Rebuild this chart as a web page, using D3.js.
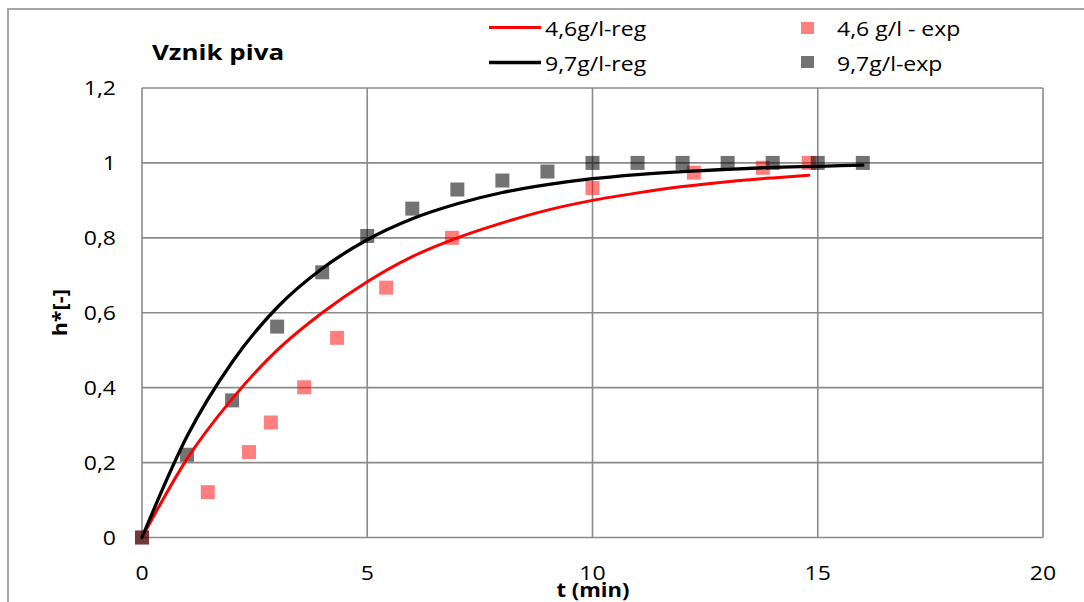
<!DOCTYPE html>
<html>
<head>
<meta charset="utf-8">
<script src="https://cdn.jsdelivr.net/npm/d3@7"></script>
<style>
  html, body { margin: 0; padding: 0; background: #fff; }
  svg { display: block; }
  text { font-family: "Open Sans", "Liberation Sans", sans-serif; fill: #000; }
</style>
</head>
<body>
<svg id="chart" width="1084" height="602"></svg>
<script>
// Axis ticks
const xTicks = [0, 5, 10, 15, 20];
const yTicks = [0, 0.2, 0.4, 0.6, 0.8, 1.0, 1.2];

// Regression curves (time in min, relative height h*)
const regT46 = [0, 1, 2, 3, 4, 5, 6, 7, 8, 9, 10, 11, 12, 13, 14, 14.8];
const regH46 = [0, 0.21, 0.37, 0.50, 0.60, 0.683, 0.75, 0.80, 0.84, 0.874, 0.90, 0.92, 0.937, 0.95, 0.96, 0.967];
const regT97 = [0, 1, 2, 3, 4, 5, 6, 7, 8, 9, 10, 11, 12, 13, 14, 15, 16];
const regH97 = [0, 0.27, 0.468, 0.614, 0.718, 0.795, 0.851, 0.891, 0.921, 0.942, 0.958, 0.969, 0.977, 0.983, 0.988, 0.991, 0.994];

// Measured points
const expT46 = [0, 1.46, 2.375, 2.86, 3.6, 4.33, 5.42, 6.88, 10, 12.25, 13.78, 14.8];
const expH46 = [0, 0.121, 0.228, 0.307, 0.401, 0.533, 0.667, 0.80, 0.933, 0.974, 0.987, 1.0];
const expT97 = [0, 1, 2, 3, 4, 5, 6, 7, 8, 9, 10, 11, 12, 13, 14, 15, 16];
const expH97 = [0, 0.221, 0.366, 0.563, 0.708, 0.805, 0.878, 0.929, 0.953, 0.977, 1, 1, 1, 1, 1, 1, 1];

const seriesNames = ["4,6g/l-reg", "9,7g/l-reg", "4,6 g/l - exp", "9,7g/l-exp"];

const svg = d3.select("#chart");
const SX = 1.15; // horizontal glyph stretch

function label(g, x, y, str, opts = {}) {
  const t = g.append("text")
    .attr("transform", `translate(${x},${y}) scale(${opts.sx || SX},1)` + (opts.rotate ? ` rotate(${opts.rotate})` : ""))
    .attr("font-size", opts.size || 20)
    .attr("font-weight", opts.bold ? 700 : 400)
    .attr("text-anchor", opts.anchor || "start")
    .text(str);
  return t;
}

// Chart frame
svg.append("path")
  .attr("d", "M8,610 L8,9 L1090,9")
  .attr("fill", "none").attr("stroke", "#a6a6a6").attr("stroke-width", 2);

const x = d3.scaleLinear().domain([0, 20]).range([142, 1043]);
const y = d3.scaleLinear().domain([0, 1.2]).range([537.5, 88]);

// Gridlines
const grid = svg.append("g");
grid.selectAll("line.h").data(yTicks).join("line")
  .attr("x1", x(0)).attr("x2", x(20))
  .attr("y1", d => y(d)).attr("y2", d => y(d))
  .attr("stroke", "#8a8a8a").attr("stroke-width", 1.6);
grid.selectAll("line.v").data(xTicks).join("line")
  .attr("y1", y(0)).attr("y2", y(1.2))
  .attr("x1", d => x(d)).attr("x2", d => x(d))
  .attr("stroke", "#8a8a8a").attr("stroke-width", 1.6);

// Tick labels
const fmt = d => String(+d.toFixed(1)).replace(".", ",");
const axisG = svg.append("g");
yTicks.forEach(d => label(axisG, 116, y(d) + 7, fmt(d), { anchor: "end" }));
xTicks.forEach(d => label(axisG, x(d), 580, fmt(d), { anchor: "middle" }));

// Axis titles
label(svg, 593, 597, "t (min)", { bold: true, anchor: "middle", sx: 1.1 });
svg.append("text")
  .attr("transform", `translate(67,${(y(0) + y(1.2)) / 2}) rotate(-90) scale(1.08,1)`)
  .attr("font-size", 20).attr("font-weight", 700).attr("text-anchor", "middle")
  .text("h*[-]");

// Title
label(svg, 152, 60, "Vznik piva", { bold: true, size: 22, sx: 1.18 });

// Measured points
const sq = 14;
const pts = svg.append("g");
pts.selectAll("rect.a").data(d3.zip(expT46, expH46)).join("rect")
  .attr("x", d => x(d[0]) - sq / 2).attr("y", d => y(d[1]) - sq / 2)
  .attr("width", sq).attr("height", sq)
  .attr("fill", "rgba(255,0,0,0.5)");
pts.selectAll("rect.b").data(d3.zip(expT97, expH97)).join("rect")
  .attr("x", d => x(d[0]) - sq / 2).attr("y", d => y(d[1]) - sq / 2)
  .attr("width", sq).attr("height", sq)
  .attr("fill", "rgba(0,0,0,0.55)");

// Regression curves
const line = d3.line().x(d => x(d[0])).y(d => y(d[1])).curve(d3.curveMonotoneX);
svg.append("path").datum(d3.zip(regT46, regH46))
  .attr("d", line).attr("fill", "none").attr("stroke", "#ff0000")
  .attr("stroke-width", 3).attr("stroke-linecap", "round");
svg.append("path").datum(d3.zip(regT97, regH97))
  .attr("d", line).attr("fill", "none").attr("stroke", "#000")
  .attr("stroke-width", 3.3).attr("stroke-linecap", "round");

// Legend
const lg = svg.append("g");
lg.append("line").attr("x1", 489).attr("x2", 541).attr("y1", 27.5).attr("y2", 27.5)
  .attr("stroke", "#ff0000").attr("stroke-width", 3);
lg.append("line").attr("x1", 489).attr("x2", 541).attr("y1", 62.5).attr("y2", 62.5)
  .attr("stroke", "#000").attr("stroke-width", 3.3);
label(lg, 545, 36, seriesNames[0]);
label(lg, 545, 71, seriesNames[1]);
lg.append("rect").attr("x", 801).attr("y", 22).attr("width", 13).attr("height", 12)
  .attr("fill", "rgba(255,0,0,0.5)");
lg.append("rect").attr("x", 801).attr("y", 56).attr("width", 13).attr("height", 12)
  .attr("fill", "rgba(0,0,0,0.55)");
label(lg, 837, 36, seriesNames[2]);
label(lg, 837, 71, seriesNames[3]);
</script>
</body>
</html>
